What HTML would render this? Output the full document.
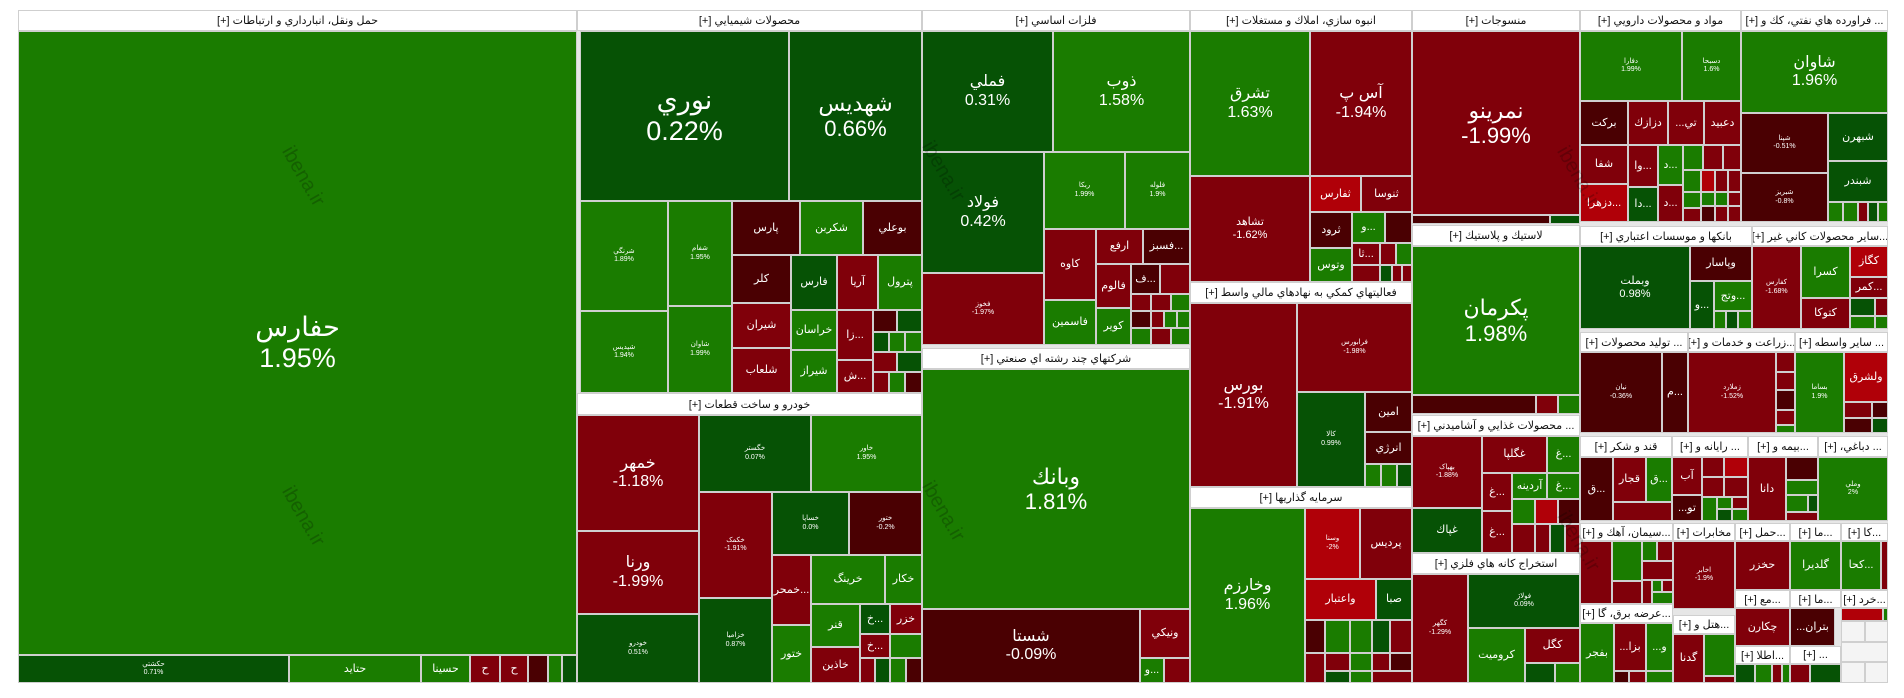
<!DOCTYPE html>
<html><head><meta charset="utf-8"><style>
body{margin:0;width:1904px;height:698px;background:#fff;position:relative;overflow:hidden;font-family:"Liberation Sans","DejaVu Sans",sans-serif}
.c{position:absolute;box-sizing:border-box;border:1px solid #cfcfcf;color:#fff;display:flex;align-items:center;justify-content:center;text-align:center;overflow:hidden;font-size:12px;line-height:1.15}
.h{position:absolute;box-sizing:border-box;border:1px solid #cfcfcf;background:#fff;color:#111;font-size:11px;display:flex;align-items:center;justify-content:center;direction:rtl;overflow:hidden;white-space:nowrap}
.g{background:#1a7c00}.G{background:#065205}.r{background:#80000a}.R{background:#4a0002}.b{background:#b00008}.e{background:#f4f4f4}
.t{font-size:7px}.s{font-size:11px}.m{font-size:16px}.l{font-size:22px}.x{font-size:27px}
.w{position:absolute;color:rgba(0,0,0,.22);font-size:20px;transform:rotate(60deg);pointer-events:none}
</style></head><body>
<div style="position:absolute;left:18px;top:10px;width:1870px;height:673px;background:#e6e6e6"></div>

<div class="h" style="left:18px;top:10px;width:559px;height:21px">حمل ونقل، انبارداري و ارتباطات [+]</div>
<div class="c g x" style="left:18px;top:31px;width:559px;height:624px">حفارس<br>1.95%</div>
<div class="c G t" style="left:18px;top:655px;width:271px;height:28px">حکشتي<br>0.71%</div>
<div class="c g s" style="left:289px;top:655px;width:132px;height:28px">حتايد</div>
<div class="c g s" style="left:421px;top:655px;width:49px;height:28px">حسينا</div>
<div class="c r s" style="left:470px;top:655px;width:30px;height:28px">ح</div>
<div class="c r s" style="left:500px;top:655px;width:28px;height:28px">ح</div>
<div class="c R" style="left:528px;top:655px;width:20px;height:28px"></div>
<div class="c g" style="left:548px;top:655px;width:14px;height:28px"></div>
<div class="c G" style="left:562px;top:655px;width:15px;height:28px"></div>

<div class="h" style="left:577px;top:10px;width:345px;height:21px">محصولات شيميايي [+]</div>
<div class="c G x" style="left:580px;top:31px;width:209px;height:170px">نوري<br>0.22%</div>
<div class="c G l" style="left:789px;top:31px;width:133px;height:170px">شهديس<br>0.66%</div>
<div class="c g t" style="left:580px;top:201px;width:88px;height:110px">شرنگي<br>1.89%</div>
<div class="c g t" style="left:580px;top:311px;width:88px;height:82px">شپديس<br>1.94%</div>
<div class="c g t" style="left:668px;top:201px;width:64px;height:105px">شفام<br>1.95%</div>
<div class="c g t" style="left:668px;top:306px;width:64px;height:87px">شاوان<br>1.99%</div>
<div class="c R s" style="left:732px;top:201px;width:68px;height:54px">پارس</div>
<div class="c g s" style="left:800px;top:201px;width:63px;height:54px">شکربن</div>
<div class="c R s" style="left:863px;top:201px;width:59px;height:54px">بوعلي</div>
<div class="c R s" style="left:732px;top:255px;width:59px;height:48px">کلر</div>
<div class="c G s" style="left:791px;top:255px;width:46px;height:55px">فارس</div>
<div class="c r s" style="left:837px;top:255px;width:41px;height:55px">آريا</div>
<div class="c g s" style="left:878px;top:255px;width:44px;height:55px">پترول</div>
<div class="c r s" style="left:732px;top:303px;width:59px;height:45px">شيران</div>
<div class="c r s" style="left:732px;top:348px;width:59px;height:45px">شلعاب</div>
<div class="c g s" style="left:791px;top:310px;width:46px;height:40px">خراسان</div>
<div class="c g s" style="left:791px;top:350px;width:46px;height:43px">شيراز</div>
<div class="c r s" style="left:837px;top:310px;width:36px;height:50px">زا...</div>
<div class="c r s" style="left:837px;top:360px;width:36px;height:33px">ش...</div>
<div class="c R" style="left:873px;top:310px;width:24px;height:22px"></div>
<div class="c G" style="left:897px;top:310px;width:25px;height:22px"></div>
<div class="c G" style="left:873px;top:332px;width:16px;height:20px"></div>
<div class="c g" style="left:889px;top:332px;width:16px;height:20px"></div>
<div class="c g" style="left:905px;top:332px;width:17px;height:20px"></div>
<div class="c r" style="left:873px;top:352px;width:24px;height:20px"></div>
<div class="c G" style="left:897px;top:352px;width:25px;height:20px"></div>
<div class="c r" style="left:873px;top:372px;width:16px;height:21px"></div>
<div class="c g" style="left:889px;top:372px;width:16px;height:21px"></div>
<div class="c R" style="left:905px;top:372px;width:17px;height:21px"></div>

<div class="h" style="left:577px;top:393px;width:345px;height:22px">خودرو و ساخت قطعات [+]</div>
<div class="c r m" style="left:577px;top:415px;width:122px;height:116px">خمهر<br>-1.18%</div>
<div class="c r m" style="left:577px;top:531px;width:122px;height:83px">ورنا<br>-1.99%</div>
<div class="c G t" style="left:577px;top:614px;width:122px;height:69px">خودرو<br>0.51%</div>
<div class="c G t" style="left:699px;top:415px;width:112px;height:77px">خگستر<br>0.07%</div>
<div class="c g t" style="left:811px;top:415px;width:111px;height:77px">خاور<br>1.95%</div>
<div class="c r t" style="left:699px;top:492px;width:73px;height:106px">خکمک<br>-1.91%</div>
<div class="c G t" style="left:772px;top:492px;width:77px;height:63px">خساپا<br>0.0%</div>
<div class="c R t" style="left:849px;top:492px;width:73px;height:63px">ختور<br>-0.2%</div>
<div class="c r s" style="left:772px;top:555px;width:39px;height:70px">خمحر...</div>
<div class="c g s" style="left:811px;top:555px;width:74px;height:49px">خرينگ</div>
<div class="c g s" style="left:885px;top:555px;width:37px;height:49px">خکار</div>
<div class="c G t" style="left:699px;top:598px;width:73px;height:85px">خزامیا<br>0.87%</div>
<div class="c g s" style="left:772px;top:625px;width:39px;height:58px">ختور</div>
<div class="c g s" style="left:811px;top:604px;width:49px;height:43px">قنر</div>
<div class="c G s" style="left:860px;top:604px;width:30px;height:30px">خ...</div>
<div class="c r s" style="left:890px;top:604px;width:32px;height:30px">خزر</div>
<div class="c r s" style="left:811px;top:647px;width:49px;height:36px">خاذين</div>
<div class="c r s" style="left:860px;top:634px;width:30px;height:24px">خ...</div>
<div class="c g" style="left:890px;top:634px;width:32px;height:24px"></div>
<div class="c r" style="left:860px;top:658px;width:15px;height:25px"></div>
<div class="c G" style="left:875px;top:658px;width:15px;height:25px"></div>
<div class="c g" style="left:890px;top:658px;width:16px;height:25px"></div>
<div class="c R" style="left:906px;top:658px;width:16px;height:25px"></div>

<div class="h" style="left:922px;top:10px;width:268px;height:21px">فلزات اساسي [+]</div>
<div class="c G m" style="left:922px;top:31px;width:131px;height:121px">فملي<br>0.31%</div>
<div class="c g m" style="left:1053px;top:31px;width:137px;height:121px">ذوب<br>1.58%</div>
<div class="c G m" style="left:922px;top:152px;width:122px;height:121px">فولاد<br>0.42%</div>
<div class="c g t" style="left:1044px;top:152px;width:81px;height:77px">ربکا<br>1.99%</div>
<div class="c g t" style="left:1125px;top:152px;width:65px;height:77px">فلوله<br>1.9%</div>
<div class="c r s" style="left:1044px;top:229px;width:52px;height:71px">کاوه</div>
<div class="c r s" style="left:1096px;top:229px;width:47px;height:35px">ارفع</div>
<div class="c R s" style="left:1143px;top:229px;width:47px;height:35px">فسبز...</div>
<div class="c r s" style="left:1096px;top:264px;width:35px;height:44px">فالوم</div>
<div class="c R s" style="left:1131px;top:264px;width:29px;height:30px">ف...</div>
<div class="c r" style="left:1160px;top:264px;width:30px;height:30px"></div>
<div class="c r" style="left:1131px;top:294px;width:20px;height:17px"></div>
<div class="c r" style="left:1151px;top:294px;width:20px;height:17px"></div>
<div class="c g" style="left:1171px;top:294px;width:19px;height:17px"></div>
<div class="c R" style="left:1131px;top:311px;width:20px;height:17px"></div>
<div class="c r" style="left:1151px;top:311px;width:13px;height:17px"></div>
<div class="c g" style="left:1164px;top:311px;width:13px;height:17px"></div>
<div class="c g" style="left:1177px;top:311px;width:13px;height:17px"></div>
<div class="c g" style="left:1131px;top:328px;width:20px;height:17px"></div>
<div class="c r" style="left:1151px;top:328px;width:20px;height:17px"></div>
<div class="c g" style="left:1171px;top:328px;width:19px;height:17px"></div>
<div class="c g s" style="left:1044px;top:300px;width:52px;height:45px">فاسمين</div>
<div class="c g s" style="left:1096px;top:308px;width:35px;height:37px">کوير</div>
<div class="c r t" style="left:922px;top:273px;width:122px;height:72px">فخوز<br>-1.97%</div>

<div class="h" style="left:922px;top:348px;width:268px;height:21px">شرکتهاي چند رشته اي صنعتي [+]</div>
<div class="c g l" style="left:922px;top:369px;width:268px;height:240px">وبانك<br>1.81%</div>
<div class="c R m" style="left:922px;top:609px;width:218px;height:74px">شستا<br>-0.09%</div>
<div class="c r s" style="left:1140px;top:609px;width:50px;height:49px">ونيکي</div>
<div class="c g s" style="left:1140px;top:658px;width:24px;height:25px">و...</div>
<div class="c r" style="left:1164px;top:658px;width:26px;height:25px"></div>

<div class="h" style="left:1190px;top:10px;width:222px;height:21px">انبوه سازي، املاك و مستغلات [+]</div>
<div class="c g m" style="left:1190px;top:31px;width:120px;height:145px">تشرق<br>1.63%</div>
<div class="c r m" style="left:1310px;top:31px;width:102px;height:145px">آس پ<br>-1.94%</div>
<div class="c r s" style="left:1190px;top:176px;width:120px;height:106px">تشاهد<br>-1.62%</div>
<div class="c b s" style="left:1310px;top:176px;width:51px;height:36px">ثفارس</div>
<div class="c r s" style="left:1361px;top:176px;width:51px;height:36px">ثنوسا</div>
<div class="c R s" style="left:1310px;top:212px;width:42px;height:36px">ثرود</div>
<div class="c g s" style="left:1352px;top:212px;width:33px;height:31px">و...</div>
<div class="c R" style="left:1385px;top:212px;width:27px;height:31px"></div>
<div class="c g s" style="left:1310px;top:248px;width:42px;height:34px">وتوس</div>
<div class="c r s" style="left:1352px;top:243px;width:28px;height:22px">ثا...</div>
<div class="c r" style="left:1380px;top:243px;width:16px;height:22px"></div>
<div class="c g" style="left:1396px;top:243px;width:16px;height:22px"></div>
<div class="c r" style="left:1352px;top:265px;width:28px;height:17px"></div>
<div class="c G" style="left:1380px;top:265px;width:12px;height:17px"></div>
<div class="c r" style="left:1392px;top:265px;width:10px;height:17px"></div>
<div class="c r" style="left:1402px;top:265px;width:10px;height:17px"></div>

<div class="h" style="left:1190px;top:282px;width:222px;height:21px">فعالیتهاي كمكي به نهادهاي مالي واسط [+]</div>
<div class="c r m" style="left:1190px;top:303px;width:107px;height:184px">بورس<br>-1.91%</div>
<div class="c r t" style="left:1297px;top:303px;width:115px;height:89px">فرابورس<br>-1.98%</div>
<div class="c G t" style="left:1297px;top:392px;width:68px;height:95px">كالا<br>0.99%</div>
<div class="c R s" style="left:1365px;top:392px;width:47px;height:40px">امين</div>
<div class="c R s" style="left:1365px;top:432px;width:47px;height:32px">انرژي</div>
<div class="c g" style="left:1365px;top:464px;width:16px;height:23px"></div>
<div class="c g" style="left:1381px;top:464px;width:16px;height:23px"></div>
<div class="c G" style="left:1397px;top:464px;width:15px;height:23px"></div>

<div class="h" style="left:1190px;top:487px;width:222px;height:21px">سرمايه گذاريها [+]</div>
<div class="c g m" style="left:1190px;top:508px;width:115px;height:175px">وخارزم<br>1.96%</div>
<div class="c b t" style="left:1305px;top:508px;width:55px;height:71px">وسنا<br>-2%</div>
<div class="c r s" style="left:1360px;top:508px;width:52px;height:71px">پرديس</div>
<div class="c b s" style="left:1305px;top:579px;width:71px;height:41px">واعتبار</div>
<div class="c G s" style="left:1376px;top:579px;width:36px;height:41px">صبا</div>
<div class="c R" style="left:1305px;top:620px;width:20px;height:33px"></div>
<div class="c g" style="left:1325px;top:620px;width:25px;height:33px"></div>
<div class="c g" style="left:1350px;top:620px;width:22px;height:33px"></div>
<div class="c G" style="left:1372px;top:620px;width:18px;height:33px"></div>
<div class="c r" style="left:1390px;top:620px;width:22px;height:33px"></div>
<div class="c r" style="left:1305px;top:653px;width:20px;height:30px"></div>
<div class="c r" style="left:1325px;top:653px;width:25px;height:18px"></div>
<div class="c g" style="left:1350px;top:653px;width:22px;height:18px"></div>
<div class="c r" style="left:1372px;top:653px;width:18px;height:18px"></div>
<div class="c R" style="left:1390px;top:653px;width:22px;height:18px"></div>
<div class="c G" style="left:1325px;top:671px;width:25px;height:12px"></div>
<div class="c g" style="left:1350px;top:671px;width:22px;height:12px"></div>
<div class="c r" style="left:1372px;top:671px;width:40px;height:12px"></div>

<div class="h" style="left:1412px;top:10px;width:168px;height:21px">منسوجات [+]</div>
<div class="c r l" style="left:1412px;top:31px;width:168px;height:184px">نمرينو<br>-1.99%</div>
<div class="c R" style="left:1412px;top:215px;width:138px;height:9px"></div>
<div class="c G" style="left:1550px;top:215px;width:30px;height:9px"></div>
<div class="h" style="left:1412px;top:225px;width:168px;height:21px">لاستيك و پلاستيك [+]</div>
<div class="c g l" style="left:1412px;top:246px;width:168px;height:149px">پکرمان<br>1.98%</div>
<div class="c R" style="left:1412px;top:395px;width:124px;height:19px"></div>
<div class="c r" style="left:1536px;top:395px;width:22px;height:19px"></div>
<div class="c g" style="left:1558px;top:395px;width:22px;height:19px"></div>
<div class="h" style="left:1412px;top:415px;width:168px;height:21px">... محصولات غذايي و آشاميدني [+]</div>
<div class="c r t" style="left:1412px;top:436px;width:70px;height:72px">بهپاک<br>-1.88%</div>
<div class="c r s" style="left:1482px;top:436px;width:65px;height:37px">غگلپا</div>
<div class="c g s" style="left:1547px;top:436px;width:33px;height:37px">غ...</div>
<div class="c r s" style="left:1482px;top:473px;width:30px;height:38px">غ...</div>
<div class="c g s" style="left:1512px;top:473px;width:35px;height:26px">آردينه</div>
<div class="c g s" style="left:1547px;top:473px;width:33px;height:26px">غ...</div>
<div class="c G s" style="left:1412px;top:508px;width:70px;height:45px">غپاك</div>
<div class="c r s" style="left:1482px;top:511px;width:30px;height:42px">غ...</div>
<div class="c g" style="left:1512px;top:499px;width:23px;height:25px"></div>
<div class="c b" style="left:1535px;top:499px;width:23px;height:25px"></div>
<div class="c R" style="left:1558px;top:499px;width:22px;height:25px"></div>
<div class="c r" style="left:1512px;top:524px;width:23px;height:29px"></div>
<div class="c r" style="left:1535px;top:524px;width:15px;height:29px"></div>
<div class="c G" style="left:1550px;top:524px;width:15px;height:29px"></div>
<div class="c r" style="left:1565px;top:524px;width:15px;height:29px"></div>
<div class="h" style="left:1412px;top:553px;width:168px;height:21px">استخراج كانه هاي فلزي [+]</div>
<div class="c r t" style="left:1412px;top:574px;width:56px;height:109px">کگهر<br>-1.29%</div>
<div class="c G t" style="left:1468px;top:574px;width:112px;height:54px">فولاژ<br>0.09%</div>
<div class="c g s" style="left:1468px;top:628px;width:57px;height:55px">كروميت</div>
<div class="c r s" style="left:1525px;top:628px;width:55px;height:35px">کگل</div>
<div class="c G" style="left:1525px;top:663px;width:30px;height:20px"></div>
<div class="c g" style="left:1555px;top:663px;width:25px;height:20px"></div>

<div class="h" style="left:1580px;top:10px;width:161px;height:21px">مواد و محصولات دارويي [+]</div>
<div class="c g t" style="left:1580px;top:31px;width:102px;height:70px">دفارا<br>1.99%</div>
<div class="c g t" style="left:1682px;top:31px;width:59px;height:70px">دسبحا<br>1.6%</div>
<div class="c R s" style="left:1580px;top:101px;width:48px;height:44px">برکت</div>
<div class="c r s" style="left:1628px;top:101px;width:40px;height:44px">دزازك</div>
<div class="c r s" style="left:1668px;top:101px;width:36px;height:44px">...تي</div>
<div class="c r s" style="left:1704px;top:101px;width:37px;height:44px">دعبيد</div>
<div class="c r s" style="left:1580px;top:145px;width:48px;height:39px">شفا</div>
<div class="c b s" style="left:1580px;top:184px;width:48px;height:38px">دزهرا...</div>
<div class="c r s" style="left:1628px;top:145px;width:30px;height:42px">وا...</div>
<div class="c G s" style="left:1628px;top:187px;width:30px;height:35px">دا...</div>
<div class="c g s" style="left:1658px;top:145px;width:25px;height:40px">د...</div>
<div class="c r s" style="left:1658px;top:185px;width:25px;height:37px">د...</div>
<div class="c g" style="left:1683px;top:145px;width:20px;height:25px"></div>
<div class="c r" style="left:1703px;top:145px;width:20px;height:25px"></div>
<div class="c r" style="left:1723px;top:145px;width:18px;height:25px"></div>
<div class="c g" style="left:1683px;top:170px;width:18px;height:22px"></div>
<div class="c b" style="left:1701px;top:170px;width:14px;height:22px"></div>
<div class="c r" style="left:1715px;top:170px;width:13px;height:22px"></div>
<div class="c r" style="left:1728px;top:170px;width:13px;height:22px"></div>
<div class="c g" style="left:1683px;top:192px;width:18px;height:16px"></div>
<div class="c g" style="left:1701px;top:192px;width:14px;height:14px"></div>
<div class="c g" style="left:1715px;top:192px;width:13px;height:14px"></div>
<div class="c r" style="left:1728px;top:192px;width:13px;height:14px"></div>
<div class="c r" style="left:1683px;top:208px;width:18px;height:14px"></div>
<div class="c R" style="left:1701px;top:206px;width:14px;height:16px"></div>
<div class="c r" style="left:1715px;top:206px;width:13px;height:16px"></div>
<div class="c r" style="left:1728px;top:206px;width:13px;height:16px"></div>

<div class="h" style="left:1741px;top:10px;width:147px;height:21px">... فراورده هاي نفتي، كك و [+]</div>
<div class="c g m" style="left:1741px;top:31px;width:147px;height:82px">شاوان<br>1.96%</div>
<div class="c R t" style="left:1741px;top:113px;width:87px;height:60px">شپنا<br>-0.51%</div>
<div class="c G s" style="left:1828px;top:113px;width:60px;height:48px">شبهرن</div>
<div class="c G s" style="left:1828px;top:161px;width:60px;height:41px">شبندر</div>
<div class="c R t" style="left:1741px;top:173px;width:87px;height:49px">شبریز<br>-0.8%</div>
<div class="c g" style="left:1828px;top:202px;width:15px;height:20px"></div>
<div class="c g" style="left:1843px;top:202px;width:15px;height:20px"></div>
<div class="c r" style="left:1858px;top:202px;width:10px;height:20px"></div>
<div class="c G" style="left:1868px;top:202px;width:10px;height:20px"></div>
<div class="c g" style="left:1878px;top:202px;width:10px;height:20px"></div>

<div class="h" style="left:1580px;top:226px;width:172px;height:20px">بانكها و موسسات اعتباري [+]</div>
<div class="c G s" style="left:1580px;top:246px;width:110px;height:83px">وبملت<br>0.98%</div>
<div class="c R s" style="left:1690px;top:246px;width:62px;height:35px">وپاسار</div>
<div class="c G s" style="left:1690px;top:281px;width:24px;height:48px">و...</div>
<div class="c g s" style="left:1714px;top:281px;width:38px;height:30px">وتج...</div>
<div class="c g" style="left:1714px;top:311px;width:12px;height:18px"></div>
<div class="c G" style="left:1726px;top:311px;width:12px;height:18px"></div>
<div class="c g" style="left:1738px;top:311px;width:14px;height:18px"></div>
<div class="h" style="left:1752px;top:226px;width:136px;height:20px">...ساير محصولات كاني غير [+]</div>
<div class="c r t" style="left:1752px;top:246px;width:49px;height:83px">کفارس<br>-1.68%</div>
<div class="c g s" style="left:1801px;top:246px;width:49px;height:52px">کسرا</div>
<div class="c b s" style="left:1850px;top:246px;width:38px;height:31px">کگاز</div>
<div class="c r s" style="left:1850px;top:277px;width:38px;height:21px">کمر...</div>
<div class="c r s" style="left:1801px;top:298px;width:49px;height:31px">کتوکا</div>
<div class="c G" style="left:1850px;top:298px;width:25px;height:18px"></div>
<div class="c r" style="left:1875px;top:298px;width:13px;height:18px"></div>
<div class="c g" style="left:1850px;top:316px;width:25px;height:13px"></div>
<div class="c g" style="left:1875px;top:316px;width:13px;height:13px"></div>

<div class="h" style="left:1580px;top:332px;width:108px;height:20px">... توليد محصولات [+]</div>
<div class="h" style="left:1688px;top:332px;width:107px;height:20px">...زراعت و خدمات و [+]</div>
<div class="h" style="left:1795px;top:332px;width:93px;height:20px">... ساير واسطه [+]</div>
<div class="c R t" style="left:1580px;top:352px;width:82px;height:81px">نيان<br>-0.36%</div>
<div class="c R s" style="left:1662px;top:352px;width:26px;height:81px">م...</div>
<div class="c r t" style="left:1688px;top:352px;width:88px;height:81px">زملارد<br>-1.52%</div>
<div class="c r" style="left:1776px;top:352px;width:19px;height:20px"></div>
<div class="c r" style="left:1776px;top:372px;width:19px;height:18px"></div>
<div class="c R" style="left:1776px;top:390px;width:19px;height:20px"></div>
<div class="c r" style="left:1776px;top:410px;width:19px;height:15px"></div>
<div class="c g" style="left:1776px;top:425px;width:19px;height:8px"></div>
<div class="c g t" style="left:1795px;top:352px;width:49px;height:81px">بساما<br>1.9%</div>
<div class="c b s" style="left:1844px;top:352px;width:44px;height:50px">ولشرق</div>
<div class="c r" style="left:1844px;top:402px;width:28px;height:16px"></div>
<div class="c R" style="left:1872px;top:402px;width:16px;height:16px"></div>
<div class="c R" style="left:1844px;top:418px;width:28px;height:15px"></div>
<div class="c G" style="left:1872px;top:418px;width:16px;height:15px"></div>

<div class="h" style="left:1580px;top:436px;width:92px;height:21px">قند و شکر [+]</div>
<div class="h" style="left:1672px;top:436px;width:76px;height:21px">... رايانه و [+]</div>
<div class="h" style="left:1748px;top:436px;width:70px;height:21px">...بيمه و [+]</div>
<div class="h" style="left:1818px;top:436px;width:70px;height:21px">... دباغي، [+]</div>
<div class="c R s" style="left:1580px;top:457px;width:33px;height:64px">ق...</div>
<div class="c r s" style="left:1613px;top:457px;width:33px;height:45px">قجار</div>
<div class="c g s" style="left:1646px;top:457px;width:26px;height:45px">ق...</div>
<div class="c r" style="left:1613px;top:502px;width:59px;height:19px"></div>
<div class="c r s" style="left:1672px;top:457px;width:30px;height:38px">آب</div>
<div class="c r" style="left:1702px;top:457px;width:22px;height:20px"></div>
<div class="c b" style="left:1724px;top:457px;width:24px;height:20px"></div>
<div class="c r" style="left:1702px;top:477px;width:22px;height:20px"></div>
<div class="c r" style="left:1724px;top:477px;width:24px;height:20px"></div>
<div class="c R s" style="left:1672px;top:495px;width:30px;height:26px">...تو</div>
<div class="c g" style="left:1702px;top:497px;width:15px;height:24px"></div>
<div class="c g" style="left:1717px;top:497px;width:15px;height:12px"></div>
<div class="c r" style="left:1732px;top:497px;width:16px;height:12px"></div>
<div class="c G" style="left:1717px;top:509px;width:15px;height:12px"></div>
<div class="c g" style="left:1732px;top:509px;width:16px;height:12px"></div>
<div class="c r s" style="left:1748px;top:457px;width:38px;height:64px">دانا</div>
<div class="c R" style="left:1786px;top:457px;width:32px;height:23px"></div>
<div class="c g" style="left:1786px;top:480px;width:32px;height:15px"></div>
<div class="c g" style="left:1786px;top:495px;width:22px;height:17px"></div>
<div class="c G" style="left:1808px;top:495px;width:10px;height:17px"></div>
<div class="c r" style="left:1786px;top:512px;width:32px;height:9px"></div>
<div class="c g t" style="left:1818px;top:457px;width:70px;height:64px">وملي<br>2%</div>

<div class="h" style="left:1580px;top:523px;width:93px;height:18px">...سيمان، آهك و [+]</div>
<div class="h" style="left:1673px;top:523px;width:62px;height:18px">مخابرات [+]</div>
<div class="h" style="left:1735px;top:523px;width:55px;height:18px">...حمل [+]</div>
<div class="h" style="left:1790px;top:523px;width:51px;height:18px">...ما [+]</div>
<div class="h" style="left:1841px;top:523px;width:47px;height:18px">...کا [+]</div>
<div class="c r" style="left:1580px;top:541px;width:32px;height:63px"></div>
<div class="c g" style="left:1612px;top:541px;width:30px;height:40px"></div>
<div class="c g" style="left:1642px;top:541px;width:15px;height:20px"></div>
<div class="c r" style="left:1657px;top:541px;width:16px;height:20px"></div>
<div class="c r" style="left:1642px;top:561px;width:31px;height:19px"></div>
<div class="c r" style="left:1612px;top:581px;width:30px;height:23px"></div>
<div class="c r" style="left:1642px;top:580px;width:10px;height:24px"></div>
<div class="c g" style="left:1652px;top:580px;width:10px;height:12px"></div>
<div class="c r" style="left:1662px;top:580px;width:11px;height:12px"></div>
<div class="c g" style="left:1652px;top:592px;width:21px;height:12px"></div>
<div class="c r t" style="left:1673px;top:541px;width:62px;height:68px">اخابر<br>-1.9%</div>
<div class="c r s" style="left:1735px;top:541px;width:55px;height:49px">حخزر</div>
<div class="c g s" style="left:1790px;top:541px;width:51px;height:49px">گلديرا</div>
<div class="c g s" style="left:1841px;top:541px;width:40px;height:49px">کحا...</div>
<div class="c r" style="left:1881px;top:541px;width:7px;height:49px"></div>
<div class="h" style="left:1735px;top:590px;width:55px;height:18px">...مع [+]</div>
<div class="h" style="left:1790px;top:590px;width:51px;height:18px">...ما [+]</div>
<div class="h" style="left:1841px;top:590px;width:47px;height:18px">...خرد [+]</div>
<div class="c r s" style="left:1735px;top:608px;width:55px;height:38px">چكارن</div>
<div class="c R s" style="left:1790px;top:608px;width:45px;height:38px">...بتران</div>
<div class="c b" style="left:1841px;top:608px;width:42px;height:13px"></div>
<div class="c g" style="left:1883px;top:608px;width:5px;height:13px"></div>
<div class="c e" style="left:1841px;top:621px;width:24px;height:21px"></div>
<div class="c e" style="left:1865px;top:621px;width:23px;height:21px"></div>
<div class="c e" style="left:1841px;top:642px;width:47px;height:20px"></div>
<div class="c e" style="left:1841px;top:662px;width:24px;height:21px"></div>
<div class="c e" style="left:1865px;top:662px;width:23px;height:21px"></div>
<div class="h" style="left:1580px;top:604px;width:93px;height:19px">...عرضه برق، گا [+]</div>
<div class="c g s" style="left:1580px;top:623px;width:34px;height:60px">بفجر</div>
<div class="c r s" style="left:1614px;top:623px;width:32px;height:48px">...بزا</div>
<div class="c g s" style="left:1646px;top:623px;width:27px;height:48px">...و</div>
<div class="c R" style="left:1614px;top:671px;width:15px;height:12px"></div>
<div class="c r" style="left:1629px;top:671px;width:17px;height:12px"></div>
<div class="c g" style="left:1646px;top:671px;width:27px;height:12px"></div>
<div class="h" style="left:1673px;top:615px;width:62px;height:19px">...هتل و [+]</div>
<div class="c r s" style="left:1673px;top:634px;width:31px;height:49px">گدنا</div>
<div class="c g" style="left:1704px;top:634px;width:31px;height:42px"></div>
<div class="c r" style="left:1704px;top:676px;width:31px;height:7px"></div>
<div class="h" style="left:1735px;top:646px;width:55px;height:18px">...اطلا [+]</div>
<div class="c G" style="left:1735px;top:664px;width:20px;height:19px"></div>
<div class="c g" style="left:1755px;top:664px;width:17px;height:19px"></div>
<div class="c r" style="left:1772px;top:664px;width:10px;height:19px"></div>
<div class="c g" style="left:1782px;top:664px;width:8px;height:19px"></div>
<div class="h" style="left:1790px;top:646px;width:51px;height:18px">... [+]</div>
<div class="c r" style="left:1790px;top:664px;width:20px;height:19px"></div>
<div class="c G" style="left:1810px;top:664px;width:31px;height:19px"></div>

<div class="w" style="left:270px;top:165px">ibena.ir</div>
<div class="w" style="left:270px;top:505px">ibena.ir</div>
<div class="w" style="left:910px;top:160px">ibena.ir</div>
<div class="w" style="left:910px;top:500px">ibena.ir</div>
<div class="w" style="left:1545px;top:165px">ibena.ir</div>
<div class="w" style="left:1545px;top:530px">ibena.ir</div>
</body></html>
